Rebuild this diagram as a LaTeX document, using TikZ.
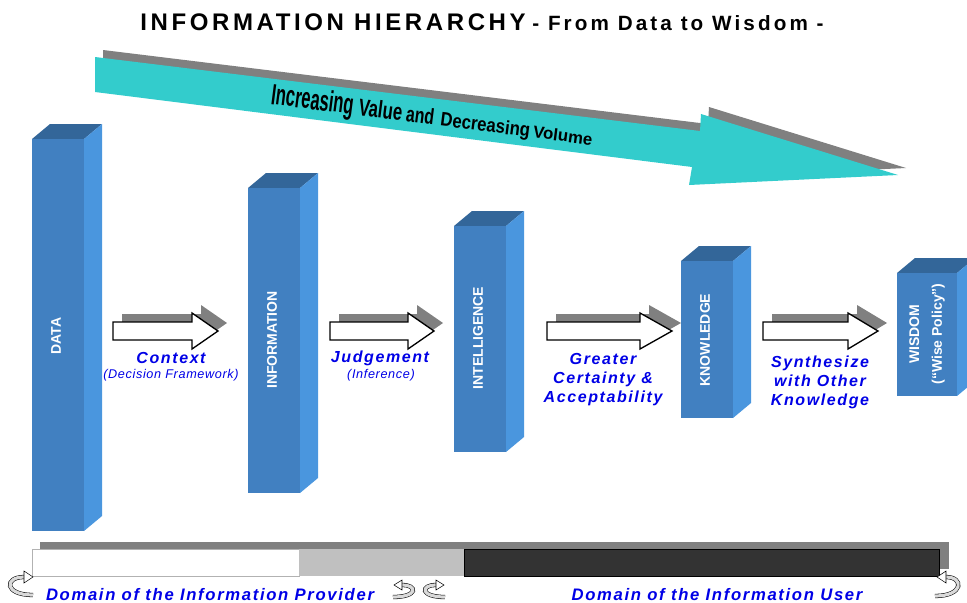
\documentclass[tikz,border=0pt]{standalone}
\usepackage{fontspec}
\setmainfont{Liberation Sans}
\newfontfamily\titlefont[LetterSpace=15]{Liberation Sans}
\newfontfamily\labelfont[LetterSpace=10]{Liberation Sans}
\newfontfamily\notefont[LetterSpace=5]{Liberation Sans}
\definecolor{barfront}{RGB}{65,128,193}
\definecolor{barside}{RGB}{74,150,222}
\definecolor{bartop}{RGB}{51,102,153}
\definecolor{valuecyan}{RGB}{51,204,204}
\definecolor{shadowgray}{RGB}{128,128,128}
\definecolor{textblue}{RGB}{0,0,230}
\definecolor{userdark}{RGB}{51,51,51}
\definecolor{midgray}{RGB}{192,192,192}

% box with top and side face: left, top, right, bottom
\newcommand{\pillar}[4]{%
  \fill[bartop] (#1,#2) -- ++(18,-15) -- (#3+18,#2-15) -- (#3,#2) -- cycle;
  \fill[barside] (#3,#2) -- (#3+18,#2-15) -- (#3+18,#4-15) -- (#3,#4) -- cycle;
  \fill[barfront] (#1,#2) rectangle (#3,#4);
}
% hollow block arrow with shadow: start, head start, tip
\newcommand{\blockarrow}[3]{%
  \fill[shadowgray, shift={(9,-8)}] (#1,322) -- (#2,322) -- (#2,313) -- (#3,331) -- (#2,349) -- (#2,340) -- (#1,340) -- cycle;
  \draw[fill=white, line width=1pt, line join=miter] (#1,322) -- (#2,322) -- (#2,313) -- (#3,331) -- (#2,349) -- (#2,340) -- (#1,340) -- cycle;
}
\newcommand{\wordart}[3]{\scalebox{#1}[1]{\fontsize{#2}{#2}\selectfont\bfseries #3}}

\begin{document}
\begin{tikzpicture}[x=0.75pt, y=-0.75pt,
    barlabel/.style={rotate=90, text=white, inner sep=0, align=center,
      font=\bfseries\fontsize{10.5}{17}\selectfont},
    linklabel/.style={text=textblue, inner sep=0, align=center,
      font=\labelfont\bfseries\itshape\fontsize{12}{14.25}\selectfont},
    linknote/.style={text=textblue, inner sep=0,
      font=\notefont\itshape\fontsize{9.5}{11}\selectfont},
    domaintext/.style={text=textblue, inner sep=0,
      font=\labelfont\bfseries\itshape\fontsize{12.5}{14}\selectfont},
    curl/.style={draw=black, line width=0.4pt, double=gray!30, double distance=2.4pt},
    curlhead/.style={draw=black, fill=white, line width=0.4pt}]
  \useasboundingbox (0,0) rectangle (967,603);
  \clip (0,0) rectangle (967,603);

  % Title
  \node[anchor=base, inner sep=0] (title) at (482,30)
    {\titlefont\bfseries\fontsize{18}{18}\selectfont INFORMATION HIERARCHY\hspace{5pt}\fontsize{15.5}{15.5}\selectfont - From Data to Wisdom -};

  % Value arrow
  \fill[shadowgray, shift={(8,-7)}] (95,57) -- (700,131) -- (701,114) -- (898,175) -- (689,185) -- (692,167) -- (95,92) -- cycle;
  \fill[valuecyan] (95,57) -- (700,131) -- (701,114) -- (898,175) -- (689,185) -- (692,167) -- (95,92) -- cycle;
  \node[rotate=-7.3, anchor=base west, inner sep=0] (value) at (270,104)
    {\wordart{0.565}{22}{Increasing}\hspace{4pt}\wordart{0.70}{18}{Value}\hspace{3pt}\wordart{0.72}{16.5}{and}\hspace{5pt}\wordart{0.86}{14.6}{Decreasing}\hspace{2.5pt}\wordart{1.0}{12.6}{Volume}};

  % Pillars
  \pillar{32}{139}{84}{531}
  \pillar{248}{188}{300}{493}
  \pillar{454}{226}{506}{452}
  \pillar{681}{261}{733}{418}
  \pillar{897}{273}{957}{396}
  \node[barlabel] (data) at (56,336) {DATA};
  \node[barlabel] (information) at (272,340) {INFORMATION};
  \node[barlabel] (intelligence) at (478,338) {INTELLIGENCE};
  \node[barlabel] (knowledge) at (705,340) {KNOWLEDGE};
  \node[barlabel] (wisdom) at (927,334) {WISDOM\\(“Wise Policy”)};

  % Steps between pillars
  \blockarrow{113}{192}{218}
  \blockarrow{330}{408}{434}
  \blockarrow{547}{640}{672}
  \blockarrow{763}{848}{878}
  \node[linklabel] (context) at (171,358) {Context};
  \node[linknote] (framework) at (171,375) {(Decision Framework)};
  \node[linklabel] (judgement) at (380,358) {Judgement};
  \node[linknote] (inference) at (381,375) {(Inference)};
  \node[linklabel] (certainty) at (603,380) {Greater\\Certainty \&\\Acceptability};
  \node[linklabel] (synthesize) at (820,382) {Synthesize\\with Other\\Knowledge};

  % Domain bar
  \fill[shadowgray] (40,542) rectangle (949,569);
  \draw[fill=white, draw=gray!60] (32,549) rectangle (299,576);
  \fill[midgray] (299,549) rectangle (464,576);
  \draw[fill=userdark, draw=black] (464,549) rectangle (939,576);

  % Turn arrows
  \draw[curl] (33,595) .. controls (4,595) and (4,577) .. (24,577);
  \draw[curlhead] (24,571) -- (33,577) -- (24,583) -- cycle;
  \draw[curl] (393,597) .. controls (418,597) and (418,585) .. (402,585);
  \draw[curlhead] (402,580) -- (394,585) -- (402,590) -- cycle;
  \draw[curl] (445,597) .. controls (420,597) and (420,585) .. (436,585);
  \draw[curlhead] (436,580) -- (444,585) -- (436,590) -- cycle;
  \draw[curl] (935,596) .. controls (964,596) and (964,577) .. (946,577);
  \draw[curlhead] (946,571) -- (937,577) -- (946,583) -- cycle;

  \node[domaintext] (provider) at (210,595) {Domain of the Information Provider};
  \node[domaintext] (user) at (717,595) {Domain of the Information User};
\end{tikzpicture}
\end{document}
